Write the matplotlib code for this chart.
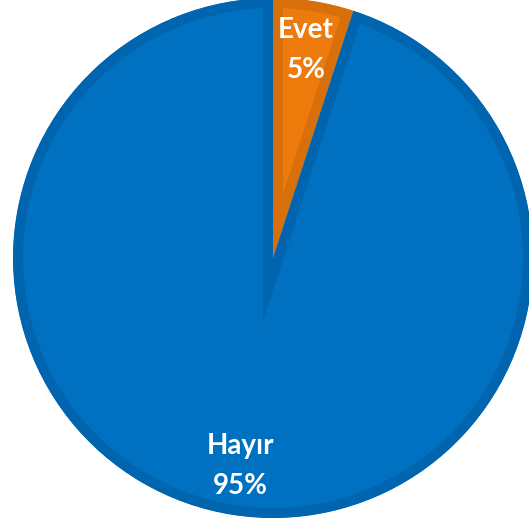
import matplotlib
matplotlib.use("Agg")
import matplotlib.pyplot as plt

# data
labels = ["Evet", "Hayır"]
values = [5, 95]
colors = ["#ED7B0C", "#0070C0"]
edge_colors = ["#D76F0A", "#0065AE"]

W, H = 529, 526
cx, cy, R = 273, 258, 260  # pie centre / radius in pixels

fig = plt.figure(figsize=(W / 100, H / 100), dpi=100)
ax = fig.add_axes([0, 0, 1, 1])

wedges, texts, autotexts = ax.pie(
    values,
    colors=colors,
    startangle=90,
    counterclock=False,
    radius=1,
    autopct=lambda p: "",
    pctdistance=0.81,
    wedgeprops=dict(linewidth=14.5),
)

# darker band kept inside each slice
for w, ec in zip(wedges, edge_colors):
    w.set_edgecolor(ec)
    w.set_clip_on(True)
    w.set_clip_path(w.get_path(), w.get_transform())

for t, lab, v in zip(autotexts, labels, values):
    t.set_text(f"{lab}\n{v}%")
    t.set_color("white")
    t.set_fontsize(20)
    t.set_fontweight("bold")
    t.set_family(["Lato", "DejaVu Sans"])
    t.set_linespacing(1.7)

ax.set_aspect("auto")
ax.set_xlim(-cx / R, (W - cx) / R)
ax.set_ylim(-(H - cy) / R, cy / R)
ax.axis("off")

fig.savefig("out.png", dpi=100)
